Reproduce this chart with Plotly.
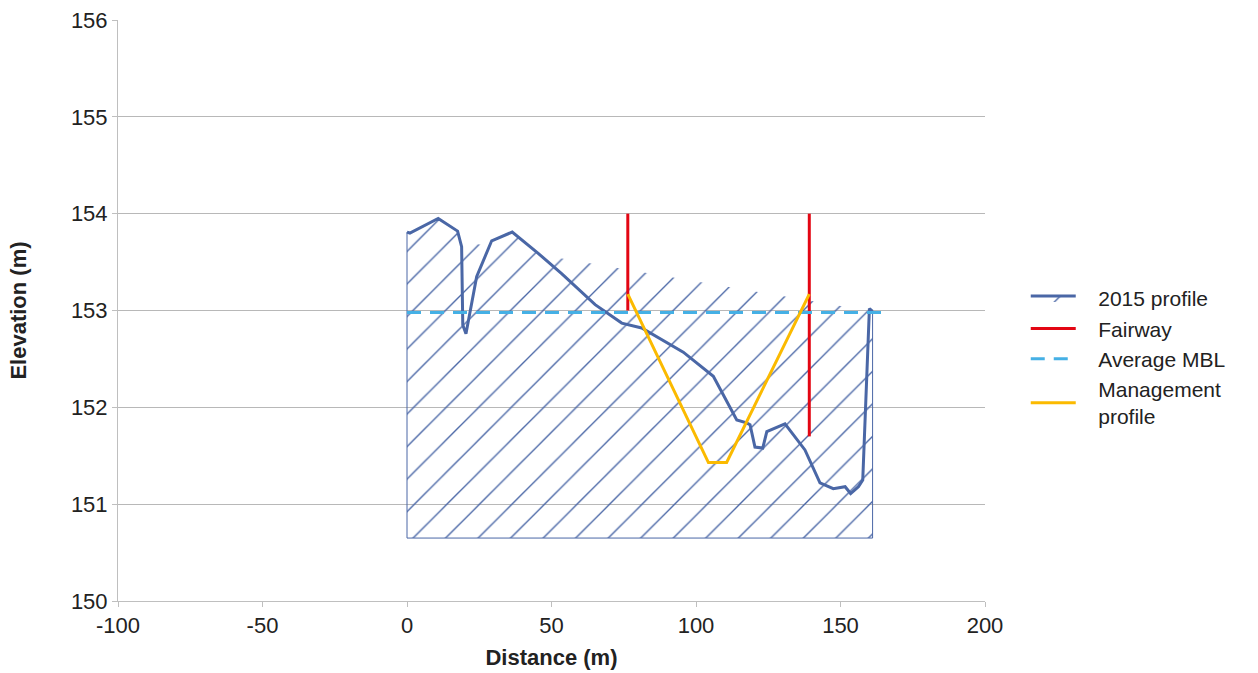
import plotly.graph_objects as go

# ---- data ----
profile_x = [0, 1.0, 10.8, 17.5, 18.9, 19.3, 20.4, 24.1, 29.3, 36.4, 45.4, 53.5, 65.1,
             74.3, 81.2, 95.6, 106.0, 114.1, 117.5, 118.7, 120.4, 123.1, 124.5, 130.8,
             137.7, 142.9, 147.5, 151.6, 153.5, 156.2, 157.7, 158.5, 160.0, 161.1]
profile_y = [153.81, 153.80, 153.95, 153.82, 153.66, 152.85, 152.76, 153.35, 153.72, 153.81,
             153.59, 153.38, 153.06, 152.87, 152.82, 152.57, 152.32, 151.87, 151.84, 151.82,
             151.59, 151.58, 151.75, 151.83, 151.56, 151.22, 151.16, 151.18, 151.11, 151.18,
             151.25, 151.94, 153.02, 152.99]
base_level = 150.65

fairway_x = [76.4, 76.4, None, 139.2, 139.2]
fairway_y = [154.0, 153.0, None, 154.0, 151.70]

mbl_x = [0, 166.8]
mbl_y = [152.98, 152.98]

mgmt_x = [76.4, 104.3, 110.6, 139.2]
mgmt_y = [153.17, 151.43, 151.43, 153.17]

x_ticks = [-100, -50, 0, 50, 100, 150, 200]
y_ticks = [150, 151, 152, 153, 154, 155, 156]

names = ["2015 profile", "Fairway", "Average MBL", "Management<br>profile"]

BLUE = "#4a67a6"
FONT = "Liberation Sans, Arial, sans-serif"
PAD = "\u00a0\u00a0\u00a0"


def lg(name):
    return "<br>".join(PAD + part for part in name.split("<br>"))


fig = go.Figure()

# outline of the section (left, bottom, right edges)
outline_x = [profile_x[-1], profile_x[-1], profile_x[0], profile_x[0]]
outline_y = [profile_y[-1], base_level, base_level, profile_y[0]]
fig.add_trace(go.Scatter(x=outline_x, y=outline_y, mode="lines",
                         line=dict(color=BLUE, width=1), showlegend=False,
                         hoverinfo="skip"))

fig.add_trace(go.Scatter(x=profile_x, y=profile_y, mode="lines", name=lg(names[0]),
                         line=dict(color=BLUE, width=3), fill="tonexty",
                         fillcolor="rgba(0,0,0,0)",
                         fillpattern=dict(shape="/", fgcolor=BLUE, bgcolor="rgba(0,0,0,0)",
                                          fgopacity=1, size=23, solidity=0.06)))

fig.add_trace(go.Scatter(x=fairway_x, y=fairway_y, mode="lines", name=lg(names[1]),
                         line=dict(color="#e30613", width=3)))

fig.add_trace(go.Scatter(x=mbl_x, y=mbl_y, mode="lines", name=lg(names[2]),
                         line=dict(color="#45b0e5", width=3, dash="14px,9px")))

fig.add_trace(go.Scatter(x=mgmt_x, y=mgmt_y, mode="lines", name=lg(names[3]),
                         line=dict(color="#fbba00", width=3)))

fig.update_layout(
    width=1258, height=673,
    margin=dict(l=118, r=273, t=20, b=72),
    paper_bgcolor="white", plot_bgcolor="white",
    font=dict(family=FONT, size=22, color="#222222"),
    legend=dict(x=1.047, y=0.556, xanchor="left", yanchor="top", traceorder="normal",
                font=dict(size=21, color="#222222"), tracegroupgap=0,
                itemwidth=45, bgcolor="rgba(0,0,0,0)"),
    xaxis=dict(range=[-100, 200], tickvals=x_ticks, ticktext=[str(v) for v in x_ticks],
               showgrid=False, zeroline=False, showline=True, linecolor="#bfbfbf",
               linewidth=1, ticks="outside", ticklen=5, tickcolor="#bfbfbf",
               automargin=False,
               title=dict(text="<b>Distance (m)</b>", font=dict(size=22), standoff=12),
               tickfont=dict(size=22)),
    yaxis=dict(range=[150, 156], tickvals=y_ticks, showgrid=True, gridcolor="#b8b8b8",
               gridwidth=1, zeroline=False, showline=True, linecolor="#bfbfbf",
               linewidth=1, ticks="outside", ticklen=5, tickcolor="#bfbfbf",
               automargin=False,
               title=dict(text="<b>Elevation (m)</b>", font=dict(size=22), standoff=38),
               tickfont=dict(size=22)),
)

fig.write_html("out.html", config={"displayModeBar": False},
               post_script="document.body.style.margin='0px';")
